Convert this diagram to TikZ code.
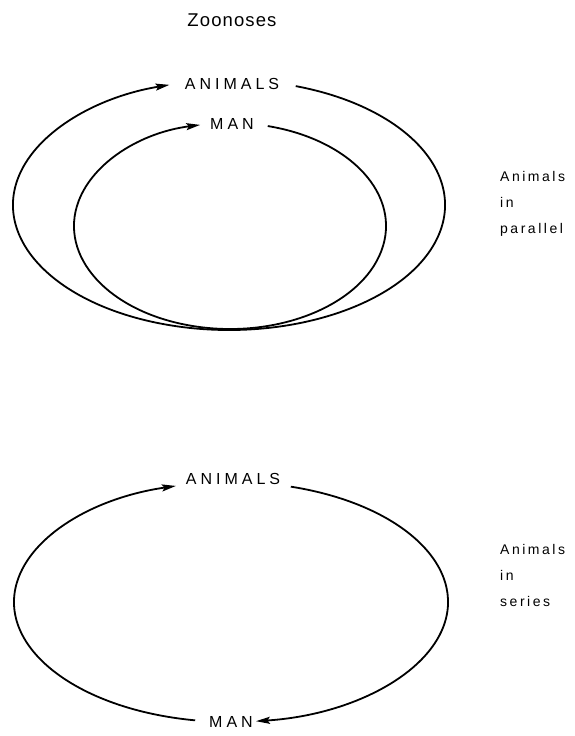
\documentclass[tikz,border=0pt]{standalone}
\usepackage{fontspec}
\setmainfont{Liberation Sans}
\newfontfamily\titlefont[LetterSpace=6]{Liberation Sans}
\newfontfamily\hostfont[LetterSpace=25]{Liberation Sans}
\newfontfamily\notefont[LetterSpace=18]{Liberation Sans}
\usetikzlibrary{arrows.meta,positioning,calc}

\begin{document}
\begin{tikzpicture}[x=1pt,y=1pt,
  cycle/.style={line width=1.8pt,-{Stealth[length=14pt,width=7pt,inset=2.5pt]}},
  host/.style={font=\hostfont\fontsize{16}{18}\selectfont,inner sep=0pt},
  note/.style={font=\notefont\fontsize{14}{26}\selectfont,align=left,inner sep=0pt}]

  \useasboundingbox (0,0) rectangle (575,736);

  % Define nodes
  \node[font=\titlefont\fontsize{18.5}{20}\selectfont] (title) at (232,716) {Zoonoses};

  \node[host] (anitop) at (232,652) {ANIMALS};
  \node[host] (mantop) at (232,612) {MAN};
  \node[note,anchor=north west] (parallel) at (500,565) {Animals\\in\\parallel};

  \node[host] (anibot) at (233,257) {ANIMALS};
  \node[host] (manbot) at (231,14) {MAN};
  \node[note,anchor=north west] (series) at (500,192) {Animals\\in\\series};

  % Ellipse centres and arc starts
  \coordinate (outer) at (229,531);
  \coordinate (inner) at (230,510);
  \coordinate (chain) at (231,134);
  \coordinate (outerstart) at ($(outer)+(72:216 and 125)$);
  \coordinate (innerstart) at ($(inner)+(76:156 and 103)$);
  \coordinate (chainright) at ($(chain)+(74:217 and 120)$);
  \coordinate (chainleft) at ($(chain)+(-99.5:217 and 120)$);

  % Connect the nodes
  \draw[cycle] (outerstart) arc[start angle=72,end angle=-254,x radius=216,y radius=125];
  \draw[cycle] (innerstart) arc[start angle=76,end angle=-259,x radius=156,y radius=103];
  \draw[cycle] (chainright) arc[start angle=74,end angle=-83.4,x radius=217,y radius=120];
  \draw[cycle] (chainleft) arc[start angle=-99.5,end angle=-255.3,x radius=217,y radius=120];

\end{tikzpicture}
\end{document}
